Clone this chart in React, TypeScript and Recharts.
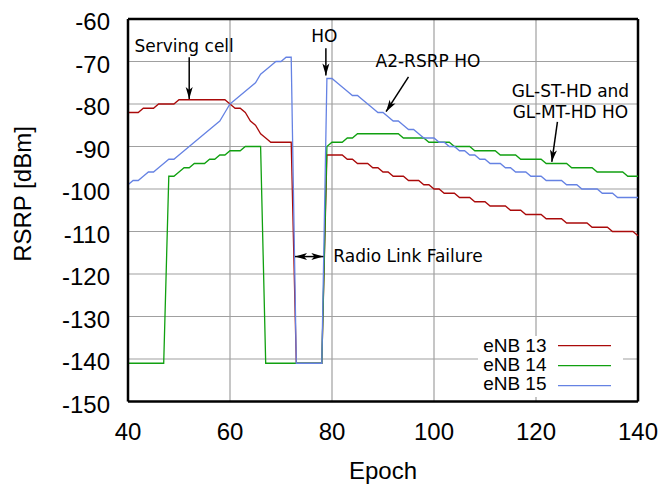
import {
  LineChart,
  Line,
  XAxis,
  YAxis,
  CartesianGrid,
  ReferenceLine,
  Customized,
} from 'recharts';

// epoch index (x axis categories)
const epochs = Array.from({ length: 101 }, (_, i) => 40 + i);

// RSRP [dBm] per epoch
const enb13 = [
  -82, -82, -82, -81, -81, -81, -80, -80, -80, -80,
  -79, -79, -79, -79, -79, -79, -79, -79, -79, -79,
  -80, -81, -81, -82, -84, -85, -87, -88, -89, -89,
  -89, -89, -89, -141, -141, -141, -141, -141, -141, -92,
  -92, -92, -92, -93, -93, -94, -94, -94, -95, -95,
  -96, -96, -97, -97, -97, -98, -98, -98, -99, -99,
  -100, -100, -101, -101, -101, -102, -102, -102, -103, -103,
  -103, -104, -104, -104, -104, -105, -105, -105, -106, -106,
  -106, -106, -107, -107, -107, -107, -108, -108, -108, -108,
  -108, -109, -109, -109, -109, -110, -110, -110, -110, -110,
  -111,
];

const enb14 = [
  -141, -141, -141, -141, -141, -141, -141, -141, -97, -97,
  -96, -95, -95, -94, -94, -94, -93, -93, -92, -92,
  -91, -91, -91, -90, -90, -90, -90, -141, -141, -141,
  -141, -141, -141, -141, -141, -141, -141, -141, -141, -90,
  -89, -89, -89, -88, -88, -87, -87, -87, -87, -87,
  -87, -87, -87, -87, -88, -88, -88, -88, -88, -89,
  -89, -89, -89, -89, -90, -90, -90, -90, -91, -91,
  -91, -91, -91, -92, -92, -92, -92, -93, -93, -93,
  -93, -93, -94, -94, -94, -94, -94, -95, -95, -95,
  -95, -95, -96, -96, -96, -96, -96, -96, -97, -97,
  -97,
];

const enb15 = [
  -99, -98, -98, -97, -96, -96, -95, -94, -93, -93,
  -92, -91, -90, -89, -88, -87, -86, -85, -84, -82,
  -80, -79, -78, -77, -76, -75, -73, -72, -71, -70,
  -70, -69, -69, -141, -141, -141, -141, -141, -141, -74,
  -74, -75, -76, -77, -78, -78, -79, -80, -81, -82,
  -82, -83, -84, -84, -85, -86, -86, -87, -88, -88,
  -88, -89, -89, -90, -90, -91, -91, -92, -92, -93,
  -93, -94, -94, -94, -95, -95, -96, -96, -96, -97,
  -97, -97, -98, -98, -98, -98, -99, -99, -99, -100,
  -100, -100, -100, -101, -101, -101, -102, -102, -102, -102,
  -102,
];

const xTicks = [40, 60, 80, 100, 120, 140];
const yTicks = [-150, -140, -130, -120, -110, -100, -90, -80, -70, -60];

const seriesNames = ['eNB 13', 'eNB 14', 'eNB 15'];
const seriesKeys = ['enb13', 'enb14', 'enb15'];
const seriesColors = ['#aa0a0a', '#10a010', '#6582e3'];

const data = epochs.map((epoch, i) => ({
  epoch,
  enb13: enb13[i],
  enb14: enb14[i],
  enb15: enb15[i],
}));

// annotation arrows, in data coordinates (epoch, dBm)
type Note = {
  from: [number, number];
  to: [number, number];
  lines: string[];
  dx: number;
  dy: number[];
  anchor: 'start' | 'middle';
  both?: boolean;
};

const notes: Note[] = [
  { from: [52, -69], to: [52, -78.8], lines: ['Serving cell'], dx: -5, dy: [-5], anchor: 'middle' },
  { from: [78.8, -66.9], to: [78.8, -73.3], lines: ['HO'], dx: -1.5, dy: [-6.3], anchor: 'middle' },
  { from: [95, -73.6], to: [90.6, -81.8], lines: ['A2-RSRP HO'], dx: -33, dy: [-10], anchor: 'start' },
  {
    from: [124.2, -84.2],
    to: [123.1, -93.6],
    lines: ['GL-ST-HD and', 'GL-MT-HD HO'],
    dx: 13,
    dy: [-25, -3.5],
    anchor: 'middle',
  },
];

const rlf: Note = {
  from: [72.75, -115.9],
  to: [78.3, -115.9],
  lines: ['Radio Link Failure'],
  dx: 10,
  dy: [5.3],
  anchor: 'start',
  both: true,
};

const NOTE_FONT = 'DejaVu Sans, sans-serif';
const AXIS_FONT = 'Liberation Sans, Arial, sans-serif';

const head = (x: number, y: number, a: number) => {
  const L = 12;
  const W = 3.5;
  const c = Math.cos(a);
  const s = Math.sin(a);
  const bx = x - L * c;
  const by = y - L * s;
  const nx = x - 0.75 * L * c;
  const ny = y - 0.75 * L * s;
  return `${x},${y} ${bx - W * s},${by + W * c} ${nx},${ny} ${bx + W * s},${by - W * c}`;
};

const arrowShape = (note: Note) => (props: any) => {
  const { x1, y1, x2, y2 } = props;
  const a = Math.atan2(y2 - y1, x2 - x1);
  const tx = note.both ? x2 : x1;
  const ty = note.both ? y2 : y1;
  return (
    <g>
      <line x1={x1} y1={y1} x2={x2} y2={y2} stroke="#000" strokeWidth={1.5} />
      <polygon points={head(x2, y2, a)} fill="#000" />
      {note.both && <polygon points={head(x1, y1, a + Math.PI)} fill="#000" />}
      {note.lines.map((t, i) => (
        <text
          key={t}
          x={tx + note.dx}
          y={ty + note.dy[i]}
          textAnchor={note.anchor}
          fontFamily={NOTE_FONT}
          fontSize={17}
          fill="#000"
        >
          {t}
        </text>
      ))}
    </g>
  );
};

const XTick = (props: any) => (
  <text x={props.x} y={props.y + 17} textAnchor="middle" fontFamily={AXIS_FONT} fontSize={24} fill="#000">
    {props.payload.value}
  </text>
);

const YTick = (props: any) => (
  <text x={props.x} y={props.y + 11} textAnchor="end" fontFamily={AXIS_FONT} fontSize={24} fill="#000">
    {props.payload.value}
  </text>
);

const Extras = () => (
  <g>
    <text
      x={22.5}
      y={186}
      transform="rotate(-90, 22.5, 186)"
      textAnchor="middle"
      fontFamily={AXIS_FONT}
      fontSize={24}
      fill="#000"
    >
      RSRP [dBm]
    </text>
    <text x={375} y={471} textAnchor="middle" fontFamily={AXIS_FONT} fontSize={24} fill="#000">
      Epoch
    </text>
    <rect x={470} y={328} width={145} height={61} fill="#fff" />
    {seriesNames.map((name, i) => (
      <g key={name}>
        <text
          x={538.5}
          y={343.7 + i * 19.2}
          textAnchor="end"
          fontFamily={AXIS_FONT}
          fontSize={19}
          fill="#000"
        >
          {name}
        </text>
        <line
          x1={550}
          x2={603}
          y1={337.7 + i * 20}
          y2={337.7 + i * 20}
          stroke={seriesColors[i]}
          strokeWidth={1.3}
        />
      </g>
    ))}
  </g>
);

export default function App() {
  return (
    <LineChart
      width={650}
      height={477}
      data={data}
      margin={{ top: 11, right: 20, bottom: 23.5, left: 20 }}
    >
      <CartesianGrid stroke="#a0a0a0" strokeWidth={1.2} />
      <XAxis
        dataKey="epoch"
        type="number"
        domain={[40, 140]}
        ticks={xTicks}
        height={60}
        tickSize={0}
        tickMargin={21}
        tick={<XTick />}
        axisLine={{ stroke: '#000', strokeWidth: 2.5 }}
        tickLine={false}
      />
      <YAxis
        type="number"
        domain={[-150, -60]}
        ticks={yTicks}
        width={100}
        tickSize={0}
        tickMargin={18}
        tick={<YTick />}
        axisLine={{ stroke: '#000', strokeWidth: 2.5 }}
        tickLine={false}
      />
      {/* inward tick marks, gnuplot style */}
      <XAxis
        xAxisId="in"
        dataKey="epoch"
        type="number"
        domain={[40, 140]}
        ticks={xTicks}
        mirror
        height={1}
        tickSize={6}
        tick={false}
        axisLine={false}
        tickLine={{ stroke: '#000', strokeWidth: 1.3 }}
      />
      <YAxis
        yAxisId="in"
        type="number"
        domain={[-150, -60]}
        ticks={yTicks}
        mirror
        width={1}
        tickSize={7}
        tick={false}
        axisLine={false}
        tickLine={{ stroke: '#000', strokeWidth: 1.3 }}
      />
      <ReferenceLine y={-60} stroke="#000" strokeWidth={2.5} />
      <ReferenceLine x={140} stroke="#000" strokeWidth={2.5} />
      {seriesKeys.map((k, i) => (
        <Line
          key={k}
          dataKey={k}
          type="linear"
          stroke={seriesColors[i]}
          strokeWidth={1.3}
          dot={false}
          activeDot={false}
          isAnimationActive={false}
        />
      ))}
      <Customized component={Extras} />
      {[...notes, rlf].map((n) => (
        <ReferenceLine
          key={n.lines[0]}
          segment={[
            { x: n.from[0], y: n.from[1] },
            { x: n.to[0], y: n.to[1] },
          ]}
          shape={arrowShape(n)}
        />
      ))}
    </LineChart>
  );
}
